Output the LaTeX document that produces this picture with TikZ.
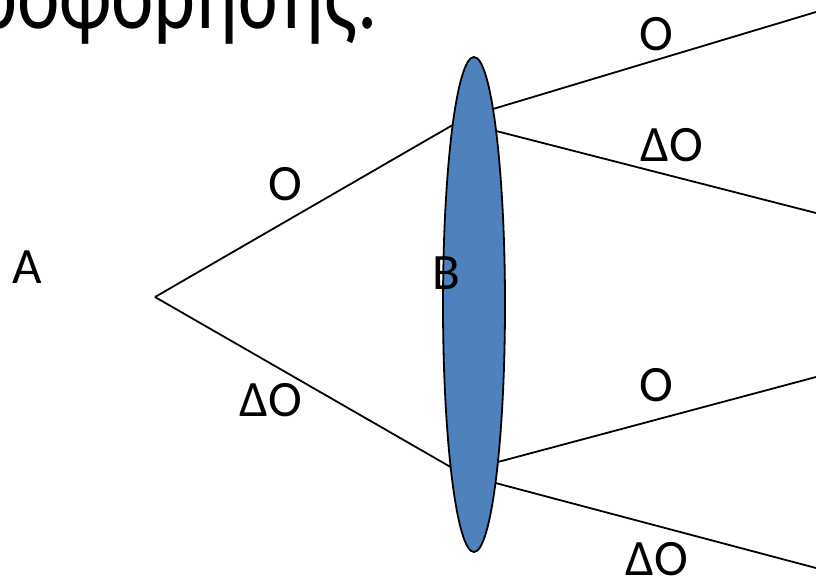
\documentclass[tikz,border=0pt]{standalone}
\usepackage{fontspec}
\setmainfont{Carlito}
\usetikzlibrary{shapes.geometric}
\definecolor{lensblue}{RGB}{79,129,189}
\tikzset{
  lbl/.style={inner sep=0pt, outer sep=0pt, font=\fontsize{51}{60}\selectfont},
  ray/.style={line width=1.8pt, black},
  lens/.style={ellipse, draw=black, line width=1.8pt, fill=lensblue,
    minimum width=62pt, minimum height=495pt, inner sep=0pt, outer sep=0pt}
}
\begin{document}
\begin{tikzpicture}[x=1pt,y=-1pt]
\useasboundingbox (0,0) rectangle (816,581);
% title fragment
\node[anchor=base west, inner sep=0pt, xscale=0.82, font=\fontsize{98}{110}\selectfont] (title) at (-24,28) {ροφόρησης.};
% apex, lens border points and free ends
\coordinate (apex) at (155,297);
\coordinate (l1) at (452.7,125);
\coordinate (l2) at (450.6,467);
\coordinate (r1) at (493,109);
\coordinate (r2) at (496.1,131);
\coordinate (r3) at (497.9,462);
\coordinate (r4) at (495.5,483);
\coordinate (e1) at (816,12);
\coordinate (e2) at (816,213);
\coordinate (e3) at (816,377);
\coordinate (e4) at (816,568);
% rays
\draw[ray] (apex) -- (l1);
\draw[ray] (apex) -- (l2);
\draw[ray] (r1) -- (e1);
\draw[ray] (r2) -- (e2);
\draw[ray] (r3) -- (e3);
\draw[ray] (r4) -- (e4);
% lens
\node[lens] (ell) at (474,304.5) {};
% labels
\node[lbl] (A) at (27,267) {A};
\node[lbl] (B) at (446,273) {B};
\node[lbl] (o1) at (285,184) {O};
\node[lbl] (d1) at (271,400) {ΔO};
\node[lbl] (o2) at (656,34) {O};
\node[lbl] (d2) at (672,145) {ΔO};
\node[lbl] (o3) at (656,385) {O};
\node[lbl] (d3) at (657,559) {ΔO};
\end{tikzpicture}
\end{document}
